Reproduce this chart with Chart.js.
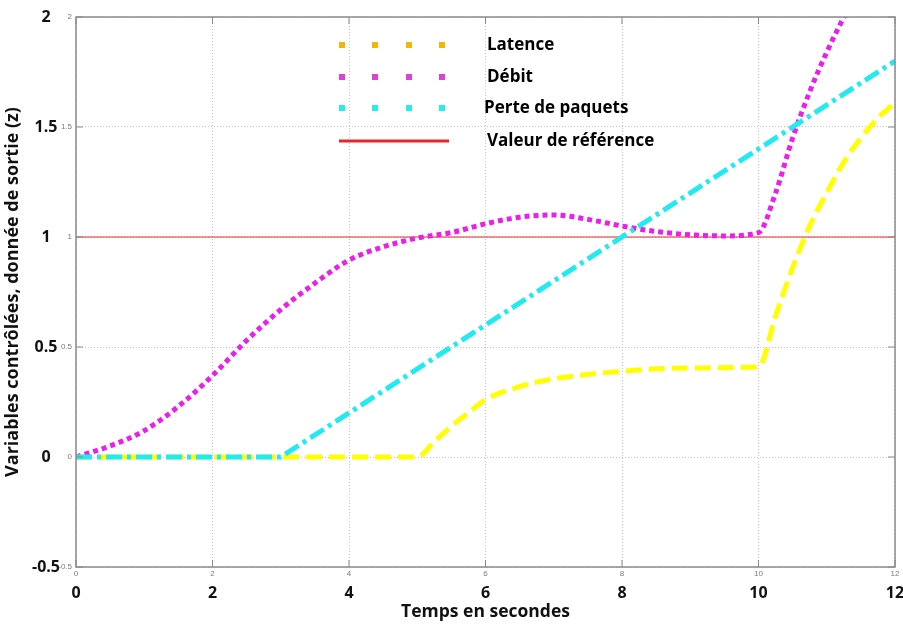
<!DOCTYPE html>
<html lang="fr">
<head>
  <meta charset="UTF-8" />
  <title>Variables contrôlées</title>
  <script src="https://cdn.jsdelivr.net/npm/chart.js"></script>
  <style>
    html, body { margin: 0; padding: 0; background: #ffffff; }
    #wrap { width: 903px; height: 624px; }
  </style>
</head>
<body>
  <div id="wrap"><canvas id="chart" width="903" height="624"></canvas></div>

  <script>
    // axis ticks
    const xTicks = [0, 2, 4, 6, 8, 10, 12];
    const yTicks = [-0.5, 0, 0.5, 1, 1.5, 2];
    const xTickLabels = ["0", "2", "4", "6", "8", "10", "12"];
    const yTickLabels = ["-0.5", "0", "0.5", "1", "1.5", "2"];

    // series (time in s, value z)
    const seriesNames = ["Latence", "Débit", "Perte de paquets", "Valeur de référence"];

    const tLatence = [0, 5, 5.25, 5.5, 5.75, 6, 6.5, 7, 7.5, 8, 9, 10, 10.25, 10.5, 10.75, 11, 11.25, 11.5, 11.75, 12];
    const latence  = [0, 0, 0.07, 0.14, 0.2, 0.26, 0.32, 0.355, 0.375, 0.39, 0.405, 0.41, 0.64, 0.86, 1.05, 1.2, 1.34, 1.45, 1.54, 1.61];

    const tDebit = [0, 0.5, 1, 1.5, 2, 2.5, 3, 3.5, 4, 4.5, 5, 5.5, 6, 6.5, 7, 7.5, 8, 8.5, 9, 9.5, 10, 10.25, 10.5, 10.75, 11, 11.25, 11.5];
    const debit  = [0, 0.05, 0.12, 0.23, 0.37, 0.53, 0.67, 0.79, 0.895, 0.955, 0.995, 1.02, 1.06, 1.09, 1.1, 1.08, 1.05, 1.025, 1.01, 1.005, 1.02, 1.2, 1.45, 1.66, 1.84, 2.0, 2.15];

    const tPerte = [0, 3, 12];
    const perte  = [0, 0, 1.8];

    const tReference = [0, 12];
    const reference  = [1, 1];

    const lineColors   = ["#ffff00", "#ea20ea", "#22eaf0", "#e8242c"];
    const legendColors = ["#f2b705", "#e040d8", "#22eef0", "#e8242c"];

    const toPoints = (t, v) => t.map((x, i) => ({ x: x, y: v[i] }));

    const frame = {
      id: 'frame',
      afterDraw(chart) {
        const { ctx, chartArea: a, scales: { x, y } } = chart;
        ctx.save();

        // box round the plot
        ctx.strokeStyle = '#8a8a8a';
        ctx.lineWidth = 1.5;
        ctx.strokeRect(a.left, a.top, a.right - a.left, a.bottom - a.top);

        // short inner ticks
        ctx.lineWidth = 1;
        ctx.beginPath();
        xTicks.forEach(v => {
          const px = x.getPixelForValue(v);
          ctx.moveTo(px, a.bottom); ctx.lineTo(px, a.bottom - 7);
          ctx.moveTo(px, a.top); ctx.lineTo(px, a.top + 7);
        });
        yTicks.forEach(v => {
          const py = y.getPixelForValue(v);
          ctx.moveTo(a.left, py); ctx.lineTo(a.left + 7, py);
          ctx.moveTo(a.right, py); ctx.lineTo(a.right - 7, py);
        });
        ctx.stroke();

        // small grey labels next to the box
        ctx.fillStyle = '#7a7a7a';
        ctx.font = '8px "Liberation Sans"';
        ctx.textAlign = 'right';
        ctx.textBaseline = 'middle';
        yTicks.forEach((v, i) => ctx.fillText(yTickLabels[i], a.left - 4, y.getPixelForValue(v)));
        ctx.textAlign = 'center';
        ctx.textBaseline = 'top';
        xTicks.forEach((v, i) => ctx.fillText(xTickLabels[i], x.getPixelForValue(v), a.bottom + 3));

        // legend
        const rows = [45, 77, 108, 141];
        ctx.font = 'bold 17px "Open Sans"';
        ctx.textAlign = 'left';
        ctx.textBaseline = 'middle';
        rows.forEach((ry, i) => {
          if (i < 3) {
            ctx.fillStyle = legendColors[i];
            [342, 375, 409, 442].forEach(sx => ctx.fillRect(sx - 3, ry - 3, 6, 6));
          } else {
            ctx.strokeStyle = legendColors[i];
            ctx.lineWidth = 3;
            ctx.beginPath();
            ctx.moveTo(339, ry); ctx.lineTo(449, ry);
            ctx.stroke();
          }
          ctx.fillStyle = '#000';
          ctx.fillText(seriesNames[i], i === 2 ? 484 : 487, ry);
        });

        ctx.restore();
      }
    };

    new Chart(document.getElementById('chart'), {
      type: 'line',
      data: {
        datasets: [
          {
            label: seriesNames[0],
            data: toPoints(tLatence, latence),
            borderColor: lineColors[0],
            borderWidth: 5,
            borderDash: [16, 7],
            cubicInterpolationMode: 'monotone',
            order: 2
          },
          {
            label: seriesNames[1],
            data: toPoints(tDebit, debit),
            borderColor: lineColors[1],
            borderWidth: 5,
            borderDash: [5, 4],
            cubicInterpolationMode: 'monotone',
            order: 1
          },
          {
            label: seriesNames[2],
            data: toPoints(tPerte, perte),
            borderColor: lineColors[2],
            borderWidth: 5,
            borderDash: [16, 5, 4, 5],
            tension: 0,
            order: 0
          },
          {
            label: seriesNames[3],
            data: toPoints(tReference, reference),
            borderColor: lineColors[3],
            borderWidth: 1,
            tension: 0,
            order: 3
          }
        ]
      },
      options: {
        responsive: false,
        animation: false,
        layout: { padding: { top: 17, right: 8, left: 0, bottom: 0 } },
        elements: { point: { radius: 0 } },
        plugins: {
          legend: { display: false },
          tooltip: { enabled: false }
        },
        scales: {
          x: {
            type: 'linear',
            min: 0,
            max: 12,
            afterFit: s => { s.height = 57; s.paddingLeft = 0; s.paddingRight = 0; },
            afterBuildTicks: s => { s.ticks = xTicks.map(v => ({ value: v })); },
            grid: { color: '#c4c4c4', lineWidth: 1, drawTicks: false },
            border: { display: false, dash: [1, 2] },
            ticks: {
              padding: 17,
              color: '#111',
              font: { family: 'Open Sans', weight: 'bold', size: 16 },
              callback: (v) => xTickLabels[xTicks.indexOf(v)]
            },
            title: {
              display: true,
              text: 'Temps en secondes',
              color: '#111',
              font: { family: 'Open Sans', weight: 'bold', size: 17.5 },
              padding: { top: 0, bottom: 1 }
            }
          },
          y: {
            type: 'linear',
            min: -0.5,
            max: 2,
            afterFit: s => { s.width = 76; s.paddingTop = 0; s.paddingBottom = 0; },
            afterBuildTicks: s => { s.ticks = yTicks.map(v => ({ value: v })); },
            grid: { color: '#c4c4c4', lineWidth: 1, drawTicks: false },
            border: { display: false, dash: [1, 2] },
            ticks: {
              padding: 16,
              crossAlign: 'center',
              color: '#111',
              font: { family: 'Open Sans', weight: 'bold', size: 16 },
              callback: (v) => yTickLabels[yTicks.indexOf(v)]
            },
            title: {
              display: true,
              text: 'Variables contrôlées, donnée de sortie (z)',
              color: '#111',
              font: { family: 'Open Sans', weight: 'bold', size: 18 },
              padding: { top: 2, bottom: 0 }
            }
          }
        }
      },
      plugins: [frame]
    });
  </script>
</body>
</html>
